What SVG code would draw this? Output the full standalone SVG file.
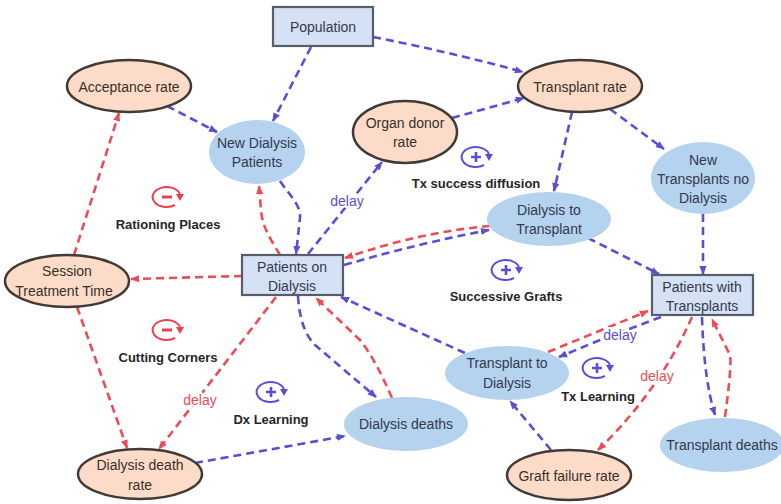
<svg xmlns="http://www.w3.org/2000/svg" xmlns:xlink="http://www.w3.org/1999/xlink" width="781" height="504" viewBox="0 0 781 504">
  <defs>
    <style>
      text{font-family:"Liberation Sans","Noto Sans",Arial,sans-serif;text-anchor:middle;dominant-baseline:central}
      .nt{font-size:14px;fill:#333a4e}
      .pt{font-size:14px;fill:#3a2e28}
      .lp{font-size:13px;font-weight:bold;fill:#262626}
      .dl{font-size:14px;stroke:#fff;stroke-width:4;paint-order:stroke;stroke-linejoin:round}
      .dlb{fill:#5a4fd4}
      .dlr{fill:#ee4b57}
      .peach{fill:#fcdcc8;stroke:#423a35;stroke-width:2.5}
      .aux{fill:#b5d2ee}
      .stock{fill:#d5e1f4;stroke:#575d6b;stroke-width:2.2}
      .b{fill:none;stroke:#5a4fd4;stroke-width:2.6;stroke-dasharray:8 5;marker-end:url(#ab)}
      .r{fill:none;stroke:#ee4b57;stroke-width:2.6;stroke-dasharray:8 5;marker-end:url(#ar)}
    </style>
    <marker id="ab" viewBox="0 0 10 10" refX="9" refY="5" markerWidth="9" markerHeight="9" markerUnits="userSpaceOnUse" orient="auto">
      <path d="M0,1 L10,5 L0,9 z" fill="#5a4fd4"/>
    </marker>
    <marker id="ar" viewBox="0 0 10 10" refX="9" refY="5" markerWidth="9" markerHeight="9" markerUnits="userSpaceOnUse" orient="auto">
      <path d="M0,1 L10,5 L0,9 z" fill="#ee4b57"/>
    </marker>
    <!-- loop polarity icons: open ring with arrowhead, sign inside -->
    <g id="loop-neg">
      <path d="M8,8 A14 10 0 1 1 13,-3" fill="none" stroke="#e8404c" stroke-width="2"/>
      <path d="M13,4 L9,-3 L17,-3 z" fill="#e8404c"/>
      <path d="M-5,0 H5" stroke="#e8404c" stroke-width="3"/>
    </g>
    <g id="loop-pos">
      <path d="M8,8 A14 10 0 1 1 13,-3" fill="none" stroke="#5a4fd4" stroke-width="2"/>
      <path d="M13,4 L9,-3 L17,-3 z" fill="#5a4fd4"/>
      <path d="M-5,0 H5 M0,-5 V5" stroke="#5a4fd4" stroke-width="2.6"/>
    </g>
  </defs>

  <rect width="781" height="504" fill="#fff"/>

  <!-- causal links -->
  <g id="connectors">
    <path class="b" d="M311,47 L273,121"/>
    <path class="b" d="M373,37 Q450,52 523,72"/>
    <path class="b" d="M167,106 L217,132"/>
    <path class="b" d="M452,118 L524,98"/>
    <path class="b" d="M572,112 L554,191"/>
    <path class="b" d="M610,109 L664,149"/>
    <path class="b" d="M703,214 L703,274"/>
    <path class="b" d="M588,238 L659,274"/>
    <path class="b" d="M344,265 Q420,243 489,230"/>
    <path class="r" d="M490,226 Q420,232 345,258"/>
    <path class="b" d="M280,181 C290,196 301,205 300,218 L296,254"/>
    <path class="b" d="M308,254 L382,162"/>
    <path class="b" d="M298,296 Q300,330 315,345 L376,397"/>
    <path class="r" d="M392,398 C382,375 372,355 360,340 L316,298"/>
    <path class="b" d="M465,353 L341,297"/>
    <path class="b" d="M195,463 L345,436"/>
    <path class="b" d="M661,317 L600,340 L559,357"/>
    <path class="r" d="M548,352 L648,311"/>
    <path class="b" d="M551,450 L510,401"/>
    <path class="r" d="M692,317 Q660,390 598,450"/>
    <path class="b" d="M702,317 Q704,380 715,415"/>
    <path class="r" d="M725,417 Q732,365 730,355 L712,319"/>
    <path class="r" d="M280,255 C268,235 262,225 261,210 L259,186"/>
    <path class="r" d="M242,276 L131,279"/>
    <path class="r" d="M74,255 L119,113"/>
    <path class="r" d="M77,307 L127,448"/>
    <path class="r" d="M276,297 L159,449"/>
    <text class="dl dlb" x="347" y="201">delay</text>
    <text class="dl dlr" x="200" y="400">delay</text>
    <text class="dl dlb" x="620" y="335">delay</text>
    <text class="dl dlr" x="657" y="376">delay</text>
  </g>

  <!-- nodes -->
  <g id="population">
    <rect class="stock" x="273" y="7" width="100" height="39"/>
    <text class="nt" x="323" y="27">Population</text>
  </g>
  <g id="acceptance-rate">
    <ellipse class="peach" cx="129" cy="86" rx="62" ry="26"/>
    <text class="pt" x="129" y="87">Acceptance rate</text>
  </g>
  <g id="new-dialysis-patients">
    <ellipse class="aux" cx="257" cy="152" rx="48" ry="32"/>
    <text class="nt" x="257" y="143">New Dialysis</text>
    <text class="nt" x="257" y="162">Patients</text>
  </g>
  <g id="organ-donor-rate">
    <ellipse class="peach" cx="405" cy="132" rx="52" ry="31"/>
    <text class="pt" x="405" y="123">Organ donor</text>
    <text class="pt" x="405" y="142">rate</text>
  </g>
  <g id="transplant-rate">
    <ellipse class="peach" cx="580" cy="86" rx="62" ry="26"/>
    <text class="pt" x="580" y="87">Transplant rate</text>
  </g>
  <g id="new-transplants-no-dialysis">
    <ellipse class="aux" cx="703" cy="178" rx="52" ry="36"/>
    <text class="nt" x="703" y="160">New</text>
    <text class="nt" x="703" y="179">Transplants no</text>
    <text class="nt" x="703" y="198">Dialysis</text>
  </g>
  <g id="dialysis-to-transplant">
    <ellipse class="aux" cx="549" cy="219" rx="62" ry="27"/>
    <text class="nt" x="549" y="210">Dialysis to</text>
    <text class="nt" x="549" y="229">Transplant</text>
  </g>
  <g id="patients-on-dialysis">
    <rect class="stock" x="242" y="255" width="101" height="40"/>
    <text class="nt" x="292" y="267">Patients on</text>
    <text class="nt" x="292" y="286">Dialysis</text>
  </g>
  <g id="session-treatment-time">
    <ellipse class="peach" cx="67" cy="281" rx="62" ry="26"/>
    <text class="pt" x="67" y="271">Session</text>
    <text class="pt" x="64" y="291">Treatment Time</text>
  </g>
  <g id="dialysis-death-rate">
    <ellipse class="peach" cx="140" cy="474" rx="62" ry="25"/>
    <text class="pt" x="140" y="465">Dialysis death</text>
    <text class="pt" x="140" y="485">rate</text>
  </g>
  <g id="dialysis-deaths">
    <ellipse class="aux" cx="406" cy="424" rx="62" ry="27"/>
    <text class="nt" x="406" y="424">Dialysis deaths</text>
  </g>
  <g id="transplant-to-dialysis">
    <ellipse class="aux" cx="507" cy="373" rx="62" ry="27"/>
    <text class="nt" x="507" y="363">Transplant to</text>
    <text class="nt" x="507" y="383">Dialysis</text>
  </g>
  <g id="patients-with-transplants">
    <rect class="stock" x="652" y="275" width="101" height="40"/>
    <text class="nt" x="702" y="287">Patients with</text>
    <text class="nt" x="702" y="306">Transplants</text>
  </g>
  <g id="transplant-deaths">
    <ellipse class="aux" cx="722" cy="445" rx="62" ry="27"/>
    <text class="nt" x="722" y="445">Transplant deaths</text>
  </g>
  <g id="graft-failure-rate">
    <ellipse class="peach" cx="569" cy="475" rx="62" ry="25"/>
    <text class="pt" x="569" y="476">Graft failure rate</text>
  </g>

  <!-- feedback loop markers -->
  <g id="loop-rationing-places">
    <use xlink:href="#loop-neg" x="167" y="197"/>
    <text class="lp" x="168" y="224">Rationing Places</text>
  </g>
  <g id="loop-tx-success-diffusion">
    <use xlink:href="#loop-pos" x="476" y="157"/>
    <text class="lp" x="476" y="183">Tx success diffusion</text>
  </g>
  <g id="loop-successive-grafts">
    <use xlink:href="#loop-pos" x="506" y="270"/>
    <text class="lp" x="506" y="296">Successive Grafts</text>
  </g>
  <g id="loop-cutting-corners">
    <use xlink:href="#loop-neg" x="167" y="330"/>
    <text class="lp" x="168" y="357">Cutting Corners</text>
  </g>
  <g id="loop-dx-learning">
    <use xlink:href="#loop-pos" x="271" y="392"/>
    <text class="lp" x="271" y="419">Dx Learning</text>
  </g>
  <g id="loop-tx-learning">
    <use xlink:href="#loop-pos" x="597" y="368"/>
    <text class="lp" x="598" y="396">Tx Learning</text>
  </g>
</svg>
